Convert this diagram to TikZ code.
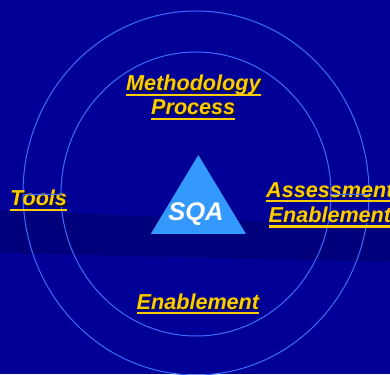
\documentclass[tikz,border=0pt]{standalone}
\usepackage{fontspec}
\setmainfont{Liberation Sans}
\definecolor{bgblue}{RGB}{0,0,150}
\definecolor{bandblue}{RGB}{0,0,124}
\definecolor{ringblue}{RGB}{60,110,255}
\definecolor{triblue}{RGB}{51,153,255}
\definecolor{gold}{RGB}{255,204,0}
\definecolor{shade}{RGB}{20,20,40}
\tikzset{
  lbl/.style={anchor=base west, inner sep=0pt, text=gold, font=\fontsize{21.6}{24}\selectfont\bfseries\itshape},
  lblshadow/.style={anchor=base west, inner sep=0pt, text=shade, font=\fontsize{21.6}{24}\selectfont\bfseries\itshape},
  uline/.style={draw=gold, line width=2.4pt},
  ring/.style={draw=ringblue, line width=1pt},
}
\newcommand{\ulabel}[4]{%
  \node[lblshadow] (#1s) at (#2+1.1,#3-1.1) {#4};
  \node[lbl] (#1) at (#2,#3) {#4};
  \draw[uline] ([yshift=-4pt]#1.base west) -- ([yshift=-4pt]#1.base east);
}
\begin{document}
\begin{tikzpicture}[x=1pt,y=1pt]
\useasboundingbox (0,0) rectangle (390,374);
\clip (0,0) rectangle (390,374);
\fill[bgblue] (0,0) rectangle (390,374);
% darker band
\fill[bandblue] (0,164) -- (390,147) -- (390,112) -- (0,121) -- cycle;
% rings
\draw[ring] (196,181) ellipse [x radius=173, y radius=182];
\draw[ring] (196,180) ellipse [x radius=135, y radius=142];
% triangle
\fill[triblue] (198.3,219) coordinate (apex) -- (246,140) coordinate (br) -- (150.7,140) coordinate (bl) -- cycle;
\node[inner sep=0pt, anchor=base, text=white, font=\fontsize{25.5}{28}\selectfont\bfseries\itshape] (sqa) at (196,153.5) {SQA};
% labels
\ulabel{meth}{126}{283}{Methodology}
\ulabel{proc}{151}{259}{Process}
\ulabel{tools}{10}{168}{Tools}
\ulabel{assess}{266}{176.7}{Assessment}
\ulabel{enabr}{268.5}{151.3}{Enablement}
\ulabel{enabb}{136.5}{64.7}{Enablement}
% connecting segments between rings
\coordinate (lo) at (22.5,179.5);
\coordinate (li) at (61.5,179.5);
\coordinate (ri) at (330.5,179.5);
\coordinate (ro) at (368.5,179.5);
\draw[ring] (lo) -- (li);
\draw[ring] (ri) -- (ro);
\end{tikzpicture}
\end{document}
